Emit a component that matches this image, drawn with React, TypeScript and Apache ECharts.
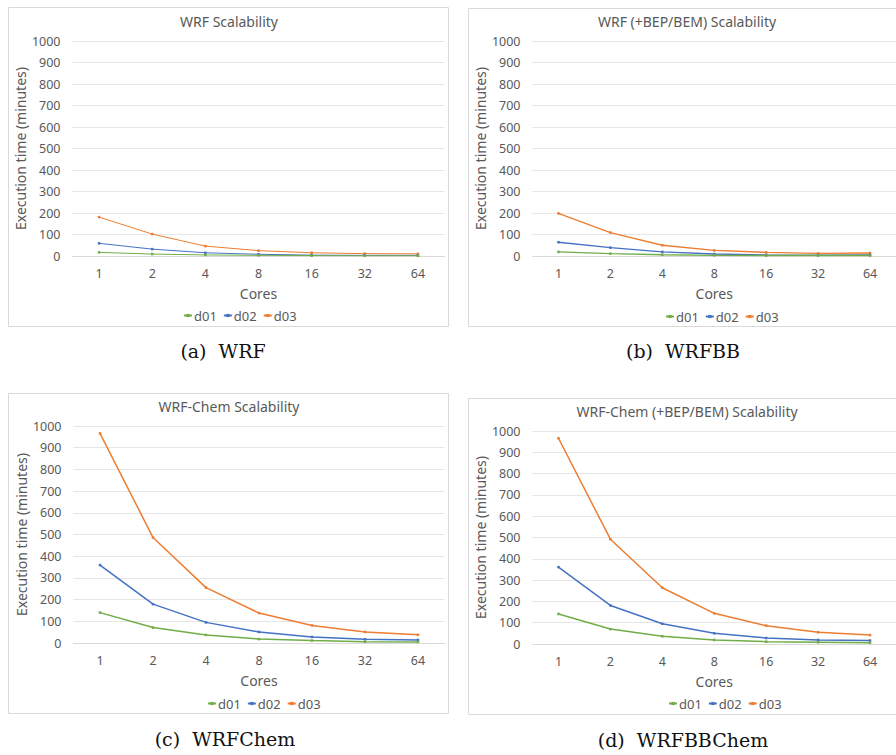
import React, { useEffect, useRef } from "react";
import * as echarts from "echarts";

const coresLabels = ["1", "2", "4", "8", "16", "32", "64"];
const seriesNames = ["d01", "d02", "d03"];
const yTicks = [0, 100, 200, 300, 400, 500, 600, 700, 800, 900, 1000];

const wrfD01 = [17, 9, 5, 3, 2, 1, 1];
const wrfD02 = [59, 32, 15, 8, 4, 3, 3];
const wrfD03 = [181, 102, 46, 25, 15, 11, 10];

const wrfbbD01 = [19, 11, 6, 3, 2, 2, 2];
const wrfbbD02 = [64, 39, 19, 9, 5, 4, 5];
const wrfbbD03 = [198, 109, 50, 26, 17, 12, 14];

const chemD01 = [140, 71, 37, 18, 11, 6, 5];
const chemD02 = [359, 179, 95, 51, 28, 17, 14];
const chemD03 = [966, 486, 255, 138, 81, 51, 38];

const bbchemD01 = [141, 70, 36, 19, 11, 8, 6];
const bbchemD02 = [361, 181, 95, 50, 28, 19, 16];
const bbchemD03 = [966, 492, 264, 144, 86, 55, 42];

const panelTitles = [
  "WRF Scalability",
  "WRF (+BEP/BEM) Scalability",
  "WRF-Chem Scalability",
  "WRF-Chem (+BEP/BEM) Scalability",
];
const captions = ["(a)  WRF", "(b)  WRFBB", "(c)  WRFChem", "(d)  WRFBBChem"];
const xAxisName = "Cores";
const yAxisName = "Execution time (minutes)";

const panelData = [
  [wrfD01, wrfD02, wrfD03],
  [wrfbbD01, wrfbbD02, wrfbbD03],
  [chemD01, chemD02, chemD03],
  [bbchemD01, bbchemD02, bbchemD03],
];

const COLORS = ["#70AD47", "#4472C4", "#ED7D31"];
const TEXT = "#595959";
const FONT = "'Noto Sans', 'Open Sans', sans-serif";

// layout per panel
const layouts = [
  { gl: 72.5, gt: 41, gw: 372, gh: 215, tx: 229, ty: 21, lx: 183, ly: 309, box: [8, 7, 440, 319], cx: 223, cy: 351, lw: 1 },
  { gl: 532.5, gt: 41, gw: 371, gh: 215, tx: 687, ty: 21, lx: 665, ly: 310, box: [468, 8, 440, 318], cx: 683, cy: 351, lw: 1.4 },
  { gl: 73.5, gt: 426, gw: 371, gh: 217, tx: 229, ty: 406, lx: 207, ly: 697, box: [8, 393, 440, 320], cx: 225, cy: 739, lw: 1.5 },
  { gl: 532.5, gt: 431, gw: 371, gh: 213, tx: 687, ty: 411, lx: 668, ly: 697, box: [468, 398, 440, 316], cx: 683, cy: 740, lw: 1.5 },
];

export default function App() {
  const ref = useRef<HTMLDivElement>(null);
  useEffect(() => {
    if (!ref.current) return;
    const chart = echarts.init(ref.current, undefined, { renderer: "svg" });

    const grid: any[] = [];
    const xAxis: any[] = [];
    const yAxis: any[] = [];
    const series: any[] = [];
    const legend: any[] = [];
    const graphic: any[] = [];

    layouts.forEach((L, i) => {
      graphic.push({
        type: "rect",
        shape: { x: L.box[0] + 0.5, y: L.box[1] + 0.5, width: L.box[2], height: L.box[3] },
        style: { fill: "#ffffff", stroke: "#d9d9d9", lineWidth: 1 },
        z: -10,
      });
      graphic.push({
        type: "text",
        x: L.tx,
        y: L.ty,
        style: {
          text: panelTitles[i],
          fill: TEXT,
          font: `14px ${FONT}`,
          align: "center",
          verticalAlign: "middle",
          textAlign: "center",
          textVerticalAlign: "middle",
        },
      });
      graphic.push({
        type: "text",
        x: L.cx,
        y: L.cy,
        style: {
          text: captions[i],
          fill: "#111111",
          font: `19px 'DejaVu Serif', serif`,
          align: "center",
          verticalAlign: "middle",
          textAlign: "center",
          textVerticalAlign: "middle",
        },
      });
      grid.push({ left: L.gl, top: L.gt, width: L.gw, height: L.gh, containLabel: false });
      xAxis.push({
        type: "category",
        gridIndex: i,
        data: coresLabels,
        boundaryGap: true,
        name: xAxisName,
        nameLocation: "middle",
        nameGap: 30,
        nameTextStyle: { color: TEXT, fontSize: 14, fontFamily: FONT },
        axisLine: { show: true, lineStyle: { color: "#d9d9d9", width: 1 } },
        axisTick: { show: false },
        axisLabel: { color: TEXT, fontSize: 12.5, fontFamily: FONT, margin: 11 },
        splitLine: { show: false },
      });
      yAxis.push({
        type: "value",
        gridIndex: i,
        min: yTicks[0],
        max: yTicks[yTicks.length - 1],
        interval: yTicks[1] - yTicks[0],
        name: yAxisName,
        nameLocation: "middle",
        nameGap: 38,
        nameTextStyle: { color: TEXT, fontSize: 14, fontFamily: FONT },
        axisLine: { show: false },
        axisTick: { show: false },
        axisLabel: {
          color: TEXT,
          fontSize: 12.5,
          fontFamily: FONT,
          margin: 12,
          formatter: (v: number) => String(v),
        },
        splitLine: { show: true, lineStyle: { color: "#e6e6e6", width: 1 } },
      });
      panelData[i].forEach((vals, k) => {
        series.push({
          type: "line",
          name: seriesNames[k],
          xAxisIndex: i,
          yAxisIndex: i,
          data: vals,
          symbol: "rect",
          symbolSize: 2.5,
          showSymbol: true,
          color: COLORS[k],
          lineStyle: { color: COLORS[k], width: L.lw },
          itemStyle: { color: COLORS[k] },
          z: 3 - k,
        });
      });
      legend.push({
        left: L.lx,
        top: L.ly,
        orient: "horizontal",
        data: seriesNames,
        itemWidth: 8,
        itemHeight: 4,
        itemGap: 6,
        padding: 0,
        selectedMode: false,
        textStyle: { color: TEXT, fontSize: 13, fontFamily: FONT, padding: [0, 0, 0, -3] },
      });
    });

    chart.setOption({
      animation: false,
      backgroundColor: "#ffffff",
      textStyle: { fontFamily: FONT },
      grid,
      xAxis,
      yAxis,
      series,
      legend,
      graphic,
    });
    return () => chart.dispose();
  }, []);
  return (
    <div
      ref={ref}
      style={{ position: "absolute", left: 0, top: 0, width: 896, height: 755 }}
    />
  );
}
